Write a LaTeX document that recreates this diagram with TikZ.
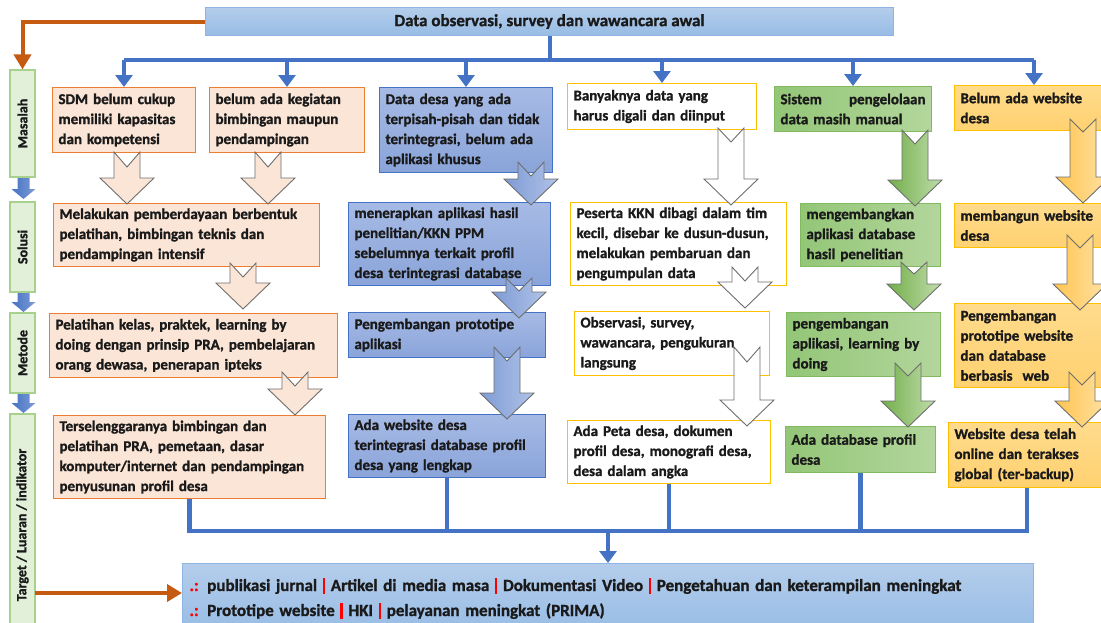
\documentclass[tikz,border=0pt]{standalone}
\usepackage{fontspec}
\setmainfont{Carlito}[BoldFont={Carlito Bold},BoldFeatures={FakeBold=1.2}]
\usetikzlibrary{arrows.meta,calc}
\definecolor{txt}{HTML}{1A1A1A}
\definecolor{peachF}{HTML}{FBE5D6}
\definecolor{peachB}{HTML}{ED7D31}
\definecolor{arrB}{HTML}{6E6E6E}
\definecolor{blueT}{HTML}{A6BAE5}
\definecolor{blueBt}{HTML}{8AA4D9}
\definecolor{blueB}{HTML}{4472C4}
\definecolor{blueAL}{HTML}{7E9BD5}
\definecolor{blueAR}{HTML}{B0C3E8}
\definecolor{goldB}{HTML}{FFC000}
\definecolor{greenL}{HTML}{93C677}
\definecolor{greenR}{HTML}{B3D69C}
\definecolor{greenB}{HTML}{82BA60}
\definecolor{greenAL}{HTML}{72AE4A}
\definecolor{greenAR}{HTML}{C0DDAB}
\definecolor{goldT}{HTML}{FFDB8C}
\definecolor{goldBt}{HTML}{FFD170}
\definecolor{goldAL}{HTML}{FFC44F}
\definecolor{goldAR}{HTML}{FFE2A6}
\definecolor{labF}{HTML}{E2F0D9}
\definecolor{labB}{HTML}{A9D18E}
\definecolor{skyT}{HTML}{B4CDEB}
\definecolor{skyB}{HTML}{97BCE5}
\definecolor{skyD}{HTML}{8EB4E3}
\definecolor{orln}{HTML}{C55A11}
\definecolor{redbar}{HTML}{FF0000}
\newcommand\boxfnt{\bfseries\fontsize{15}{20}\selectfont}
\newcommand\bx[7]{%
  \pgfmathsetmacro\bxw{#5-#3}\pgfmathsetmacro\bxh{#6-#4}\pgfmathsetmacro\bxt{#5-#3-12}%
  \node[box,#2,minimum width=\bxw pt,minimum height=\bxh pt,text width=\bxt pt] (#1) at (#3,#4) {#7};}
\newcommand\blk[5]{%
  \draw[#1] ({#2-13},#3) -- (#2,{#3+#5}) -- ({#2+13},#3) -- ({#2+13},{#4-26}) -- ({#2+27},{#4-26}) -- (#2,#4) -- ({#2-27},{#4-26}) -- ({#2-13},{#4-26}) -- cycle;}
\newcommand\sblk[3]{%
  \draw[sarr] ({#1-6},#2) -- ({#1+6},#2) -- ({#1+6},{#3-10}) -- ({#1+12},{#3-10}) -- (#1,#3) -- ({#1-12},{#3-10}) -- ({#1-6},{#3-10}) -- cycle;}
\newcommand\rbar{\textcolor{redbar}{\rule[-3pt]{2.4pt}{16pt}}}
\begin{document}
\begin{tikzpicture}[x=1pt,y=-1pt,
  box/.style={draw,line width=1pt,anchor=north west,align=left,inner xsep=6pt,inner ysep=3pt,font=\boxfnt,text=txt},
  peach/.style={fill=peachF,draw=peachB},
  bluebox/.style={top color=blueT,bottom color=blueBt,draw=blueB},
  whitebox/.style={fill=white,draw=goldB},
  greenbox/.style={left color=greenL,right color=greenR,draw=greenB},
  goldbox/.style={top color=goldT,bottom color=goldBt,draw=goldB},
  peachA/.style={fill=peachF,draw=arrB,line width=0.9pt,line join=miter},
  blueA/.style={left color=blueAL,right color=blueAR,draw=arrB,line width=0.9pt},
  whiteA/.style={fill=white,draw=arrB,line width=0.9pt},
  greenA/.style={left color=greenAL,right color=greenAR,draw=arrB,line width=0.9pt},
  goldA/.style={left color=goldAL,right color=goldAR,draw=arrB,line width=0.9pt},
  sarr/.style={left color=blueB,right color=blueAL,draw=none},
  lab/.style={draw=labB,fill=labF,line width=1.2pt,rotate=90,minimum height=25pt,inner sep=0pt,font=\bfseries\fontsize{14}{15}\selectfont,text=txt},
  bl/.style={draw=blueB,line width=4.5pt},
  blt/.style={bl,-{Triangle[width=17pt,length=12pt]}},
  orl/.style={draw=orln,line width=4pt},
  ort/.style={orl,-{Triangle[width=17pt,length=15pt]}},
  sky/.style={top color=skyT,bottom color=skyB,draw=skyD,line width=1pt}
]
\useasboundingbox (0,0) rectangle (1101,622);
\clip (0,0) rectangle (1101,622);

% left labels
\node[lab,minimum width=107pt] (L1) at (22.5,123.5) {Masalah};
\node[lab,minimum width=90pt] (L2) at (22.5,247) {Solusi};
\node[lab,minimum width=80pt] (L3) at (22.5,353) {Metode};
\node[lab,minimum width=222pt] (L4) at (22.5,525) {Target / Luaran / indikator};
\sblk{23.5}{178}{199}
\sblk{23.5}{293}{312}
\sblk{23.5}{394}{413}

% top box
\node[sky,minimum width=688pt,minimum height=28pt,anchor=north west,font=\bfseries\fontsize{17}{18}\selectfont,text=txt] (top) at (205,7) {Data observasi, survey dan wawancara awal};

% boxes
\bx{m1}{peach}{52}{87}{195}{152}{SDM belum cukup\\memiliki kapasitas\\dan kompetensi}
\bx{m2}{peach}{209}{87}{364}{152}{belum ada kegiatan\\bimbingan maupun\\pendampingan}
\bx{m3}{bluebox}{379}{87}{552}{172}{Data desa yang ada\\terpisah-pisah dan tidak\\terintegrasi, belum ada\\aplikasi khusus}
\bx{m4}{whitebox}{567}{83}{756}{129}{Banyaknya data yang\\harus digali dan diinput}
\bx{m5}{greenbox}{774}{86}{931}{131}{Sistem\hfill pengelolaan\\data masih manual}
\bx{m6}{goldbox}{954}{85}{1120}{130}{Belum ada website\\desa}

\bx{s1}{peach}{53}{203}{319}{266}{Melakukan pemberdayaan berbentuk\\pelatihan, bimbingan teknis dan\\pendampingan intensif}
\bx{s2}{bluebox}{348}{202}{550}{285}{menerapkan aplikasi hasil\\penelitian/KKN PPM\\sebelumnya terkait profil\\desa terintegrasi database}
\bx{s3}{whitebox}{570}{202}{786}{285}{Peserta KKN dibagi dalam tim\\kecil, disebar ke dusun-dusun,\\melakukan pembaruan dan\\pengumpulan data}
\bx{s4}{greenbox}{800}{203}{940}{266}{mengembangkan\\aplikasi database\\hasil penelitian}
\bx{s5}{goldbox}{954}{203}{1120}{247}{membangun website\\desa}

\bx{t1}{peach}{49}{313}{337}{377}{Pelatihan kelas, praktek, learning by\\doing dengan prinsip PRA, pembelajaran\\orang dewasa, penerapan ipteks}
\bx{t2}{bluebox}{348}{312}{545}{357}{Pengembangan prototipe\\aplikasi}
\bx{t3}{whitebox}{574}{311}{769}{375}{Observasi, survey,\\wawancara, pengukuran\\langsung}
\bx{t4}{greenbox}{786}{312}{940}{376}{pengembangan\\aplikasi, learning by\\doing}
\bx{t5}{goldbox}{954}{303}{1120}{387}{Pengembangan\\prototipe website\\dan database\\berbasis\ \ web}

\bx{o1}{peach}{53}{415}{325}{498}{Terselenggaranya bimbingan dan\\pelatihan PRA, pemetaan, dasar\\komputer/internet dan pendampingan\\penyusunan profil desa}
\bx{o2}{bluebox}{348}{414}{545}{477}{Ada website desa\\terintegrasi database profil\\desa yang lengkap}
\bx{o3}{whitebox}{567}{420}{770}{483}{Ada Peta desa, dokumen\\profil desa, monografi desa,\\desa dalam angka}
\bx{o4}{greenbox}{785}{426}{935}{472}{Ada database profil\\desa}
\bx{o5}{goldbox}{948}{422}{1120}{487}{Website desa telah\\online dan terakses\\global (ter-backup)}

% bottom box
\node[sky,anchor=north west,minimum width=851pt,minimum height=70pt,align=left,inner xsep=7pt,inner ysep=5pt,text width=837pt,font=\bfseries\fontsize{17}{25}\selectfont,text=txt,anchor=north west] (bot) at (182,563)
 {\textcolor{redbar}{.:} publikasi jurnal \rbar\ Artikel di media masa \rbar\ Dokumentasi Video \rbar\ Pengetahuan dan keterampilan meningkat\\
  \textcolor{redbar}{.:} Prototipe website \rbar\ HKI \rbar\ pelayanan meningkat (PRIMA)};

% block arrows
\blk{peachA}{127}{152}{204}{15}
\blk{peachA}{268}{152}{204}{15}
\blk{peachA}{243}{263}{309}{14}
\blk{peachA}{295}{372}{415}{14}
\blk{blueA}{531}{162}{205}{14}
\blk{blueA}{519}{278}{318}{13}
\blk{blueA}{507}{347}{419}{14}
\blk{whiteA}{731}{128}{205}{14}
\blk{whiteA}{745}{267}{308}{14}
\blk{whiteA}{747}{347}{426}{15}
\blk{greenA}{915}{130}{206}{14}
\blk{greenA}{914}{262}{310}{12}
\blk{greenA}{908}{363}{427}{13}
\blk{goldA}{1083}{119}{203}{13}
\blk{goldA}{1080}{235}{310}{13}
\blk{goldA}{1082}{372}{427}{13}

% top connectors
\coordinate (bus) at (550,60);
\coordinate (c6) at (1034,60);
\draw[bl] (top.south -| bus) -- (bus);
\draw[bl] (bus -| m1) -- (c6);
\draw[blt] (bus -| m1) -- (m1.north);
\draw[blt] (bus -| m2) -- (m2.north);
\draw[blt] (bus -| m3) -- (m3.north);
\draw[blt] (bus -| m4) -- (m4.north);
\draw[blt] (bus -| m5) -- (m5.north);
\draw[blt] (c6) -- (c6 |- m6.north);

% orange connectors
\draw[ort] (top.west) -| (L1.east);
\coordinate (ob) at (35,593);
\draw[ort] (ob) -- (ob -| bot.west);

% bottom connectors
\coordinate (hub) at (608,531);
\coordinate (c5) at (1027,531);
\draw[bl] (o1.south) -- (o1.south |- hub);
\draw[bl] (o2.south) -- (o2.south |- hub);
\draw[bl] (o3.south) -- (o3.south |- hub);
\draw[bl] (o4.south) -- (o4.south |- hub);
\draw[bl] (c5 |- o5.south) -- (c5);
\draw[bl,line cap=rect] (o1.south |- hub) -- (c5);
\draw[blt] (hub) -- (hub |- bot.north);
\end{tikzpicture}
\end{document}
